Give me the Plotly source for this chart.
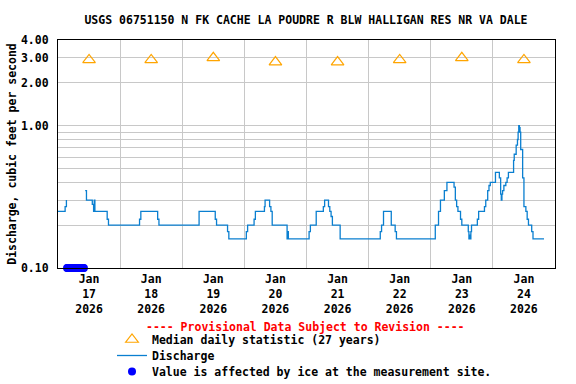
import math
import plotly.graph_objects as go

TITLE = "USGS 06751150 N FK CACHE LA POUDRE R BLW HALLIGAN RES NR VA DALE"
Y_TITLE = "Discharge, cubic feet per second"
PROVISIONAL = "---- Provisional Data Subject to Revision ----"

# Discharge (15-min record, step changes only), cfs
q_times = [
    "2026-01-17 00:00", "2026-01-17 02:45", "2026-01-17 03:15", "2026-01-17 03:30",
    "2026-01-17 10:30", "2026-01-17 11:00", "2026-01-17 13:15", "2026-01-17 13:45",
    "2026-01-17 14:00", "2026-01-17 14:15", "2026-01-17 19:00", "2026-01-17 19:30",
    "2026-01-18 07:30", "2026-01-18 08:00", "2026-01-18 14:30", "2026-01-18 15:00",
    "2026-01-19 06:30", "2026-01-19 12:45", "2026-01-19 13:15", "2026-01-19 17:30",
    "2026-01-19 18:00", "2026-01-20 00:45", "2026-01-20 01:15", "2026-01-20 03:45",
    "2026-01-20 04:15", "2026-01-20 07:45", "2026-01-20 08:00", "2026-01-20 09:45",
    "2026-01-20 10:15", "2026-01-20 10:45", "2026-01-20 16:30", "2026-01-20 16:45",
    "2026-01-20 17:00", "2026-01-21 01:00", "2026-01-21 01:30", "2026-01-21 03:45",
    "2026-01-21 06:30", "2026-01-21 07:00", "2026-01-21 08:30", "2026-01-21 09:00",
    "2026-01-21 09:30", "2026-01-21 10:00", "2026-01-21 13:00", "2026-01-22 04:30",
    "2026-01-22 05:00", "2026-01-22 05:45", "2026-01-22 08:45", "2026-01-22 10:15",
    "2026-01-22 10:45", "2026-01-23 01:45", "2026-01-23 03:00", "2026-01-23 03:45",
    "2026-01-23 05:15", "2026-01-23 06:15", "2026-01-23 09:00", "2026-01-23 09:30",
    "2026-01-23 10:00", "2026-01-23 10:30", "2026-01-23 11:30", "2026-01-23 12:00",
    "2026-01-23 14:30", "2026-01-23 14:45", "2026-01-23 15:00", "2026-01-23 15:15",
    "2026-01-23 15:30", "2026-01-23 15:45", "2026-01-23 18:00", "2026-01-23 18:30",
    "2026-01-23 20:45", "2026-01-23 21:15", "2026-01-23 22:00", "2026-01-23 22:30",
    "2026-01-23 23:00", "2026-01-24 01:00", "2026-01-24 02:30", "2026-01-24 03:00",
    "2026-01-24 03:15", "2026-01-24 03:30", "2026-01-24 03:45", "2026-01-24 04:15",
    "2026-01-24 05:00", "2026-01-24 05:30", "2026-01-24 06:00", "2026-01-24 08:00",
    "2026-01-24 08:15", "2026-01-24 09:00", "2026-01-24 09:30", "2026-01-24 09:45",
    "2026-01-24 10:00", "2026-01-24 10:15", "2026-01-24 10:30", "2026-01-24 10:45",
    "2026-01-24 11:30", "2026-01-24 12:00", "2026-01-24 12:45", "2026-01-24 13:15",
    "2026-01-24 13:45", "2026-01-24 15:00", "2026-01-24 15:30", "2026-01-24 19:45",
]
q_values = [
    0.25, 0.27, 0.30, None,
    0.35, 0.30, 0.28, 0.25,
    0.30, 0.25, 0.22, 0.20,
    0.22, 0.25, 0.22, 0.20,
    0.25, 0.22, 0.20, 0.18,
    0.16, 0.18, 0.20, 0.22,
    0.25, 0.27, 0.30, 0.27,
    0.25, 0.20, 0.16, 0.18,
    0.16, 0.18, 0.20, 0.25,
    0.27, 0.30, 0.27, 0.25,
    0.23, 0.20, 0.16, 0.18,
    0.20, 0.25, 0.20, 0.18,
    0.16, 0.20, 0.25, 0.30,
    0.35, 0.40, 0.37, 0.30,
    0.27, 0.25, 0.22, 0.20,
    0.18, 0.16, 0.17, 0.16,
    0.18, 0.20, 0.22, 0.25,
    0.27, 0.30, 0.35, 0.38,
    0.40, 0.47, 0.43, 0.33,
    0.30, 0.33, 0.35, 0.38,
    0.40, 0.43, 0.47, 0.57,
    0.63, 0.73, 0.80, 0.90,
    1.00, 0.97, 0.90, 0.68,
    0.43, 0.27, 0.25, 0.22,
    0.20, 0.18, 0.16, 0.16,
]

# Median daily statistic (27 years), plotted at noon
median_days = ["2026-01-17 12:00", "2026-01-18 12:00", "2026-01-19 12:00", "2026-01-20 12:00",
               "2026-01-21 12:00", "2026-01-22 12:00", "2026-01-23 12:00", "2026-01-24 12:00"]
median_values = [2.9, 2.9, 3.0, 2.8, 2.8, 2.9, 3.0, 2.9]

# Ice-affected values
ice_times = [
    "2026-01-17 03:30", "2026-01-17 03:45", "2026-01-17 04:00", "2026-01-17 04:15",
    "2026-01-17 04:30", "2026-01-17 04:45", "2026-01-17 05:00", "2026-01-17 05:15",
    "2026-01-17 05:30", "2026-01-17 05:45", "2026-01-17 06:00", "2026-01-17 06:15",
    "2026-01-17 06:30", "2026-01-17 06:45", "2026-01-17 07:00", "2026-01-17 07:15",
    "2026-01-17 07:30", "2026-01-17 07:45", "2026-01-17 08:00", "2026-01-17 08:15",
    "2026-01-17 08:30", "2026-01-17 08:45", "2026-01-17 09:00", "2026-01-17 09:15",
    "2026-01-17 09:30", "2026-01-17 09:45", "2026-01-17 10:00",
]
ice_values = [0.10] * len(ice_times)

y_tickvals = [0.1, 1, 2, 3, 4]
y_ticktext = ["0.10", "1.00", "2.00", "3.00", "4.00"]
y_minor = [0.2, 0.3, 0.4, 0.5, 0.6, 0.7, 0.8, 0.9]

FONT = "DejaVu Sans Mono"
FS = 11.5
GRID = "#C8C8C8"

fig = go.Figure()
fig.add_trace(go.Scatter(
    x=median_days, y=median_values, mode="markers",
    name="Median daily statistic (27 years)",
    marker=dict(symbol="triangle-up-open", size=11, color="#FFA500", line=dict(width=1.2, color="#FFA500")),
    legend="legend", cliponaxis=False,
))
fig.add_trace(go.Scatter(
    x=q_times, y=q_values, mode="lines", name="Discharge",
    line=dict(color="#0A7FD0", width=1.3, shape="hv"),
    connectgaps=False, legend="legend2",
))
fig.add_trace(go.Scatter(
    x=ice_times, y=ice_values, mode="markers",
    name="Value is affected by ice at the measurement site.",
    marker=dict(symbol="circle", size=8, color="#0000FF"),
    cliponaxis=False, legend="legend3",
))

W, H = 576, 384
L, R, T, B = 58, 21, 40, 116
pw, ph = W - L - R, H - T - B

def px_x(x):
    return (x - L) / pw

def px_y(y):
    return (H - B - y) / ph

leg_font = dict(family=FONT, size=FS, color="black", weight="bold")
leg_common = dict(font=leg_font, bgcolor="rgba(0,0,0,0)", borderwidth=0,
                  xanchor="left", yanchor="middle", itemwidth=30)

fig.update_layout(
    width=W, height=H,
    margin=dict(l=L, r=R, t=T, b=B, autoexpand=False),
    paper_bgcolor="white", plot_bgcolor="white",
    font=dict(family=FONT, size=FS, color="black", weight="bold"),
    title=dict(text=TITLE, x=px_x(306), xref="paper", xanchor="center",
               y=1 - 20 / H, yref="container", yanchor="middle",
               font=dict(family=FONT, size=FS, color="black", weight="bold")),
    showlegend=True,
    legend=dict(x=px_x(112), y=px_y(339.5), **leg_common),
    legend2=dict(x=px_x(112), y=px_y(355.5), **leg_common),
    legend3=dict(x=px_x(112), y=px_y(371.5), **leg_common),
    annotations=[dict(text=PROVISIONAL, xref="paper", yref="paper",
                      x=px_x(305), y=px_y(326.5), xanchor="center", yanchor="middle",
                      showarrow=False,
                      font=dict(family=FONT, size=FS, color="#FF0000", weight="bold"))],
)

fig.update_xaxes(
    type="date", range=["2026-01-17 00:00", "2026-01-25 00:00"],
    tick0="2026-01-17", dtick=86400000, ticklabelmode="period",
    tickformat="%b<br>%d<br>%Y", ticks="",
    showgrid=True, gridcolor=GRID, gridwidth=1,
    showline=True, linecolor="black", linewidth=1.2, mirror=True,
    zeroline=False, fixedrange=True,
    tickfont=dict(family=FONT, size=FS, color="black", weight="bold"),
)
fig.update_yaxes(
    type="log", range=[-1, math.log10(4)],
    tickmode="array", tickvals=y_tickvals, ticktext=y_ticktext, ticks="",
    showgrid=True, gridcolor=GRID, gridwidth=1,
    minor=dict(tickmode="array", tickvals=y_minor, showgrid=True, gridcolor=GRID, gridwidth=1, ticks=""),
    showline=True, linecolor="black", linewidth=1.2, mirror=True,
    zeroline=False, ticklabelstandoff=6, fixedrange=True,
    tickfont=dict(family=FONT, size=FS, color="black", weight="bold"),
    title=dict(text=Y_TITLE, standoff=1,
               font=dict(family=FONT, size=FS, color="black", weight="bold")),
)

fig.write_html("out.html", config={"displayModeBar": False},
               post_script="document.body.style.margin='0';document.body.style.padding='0';")
